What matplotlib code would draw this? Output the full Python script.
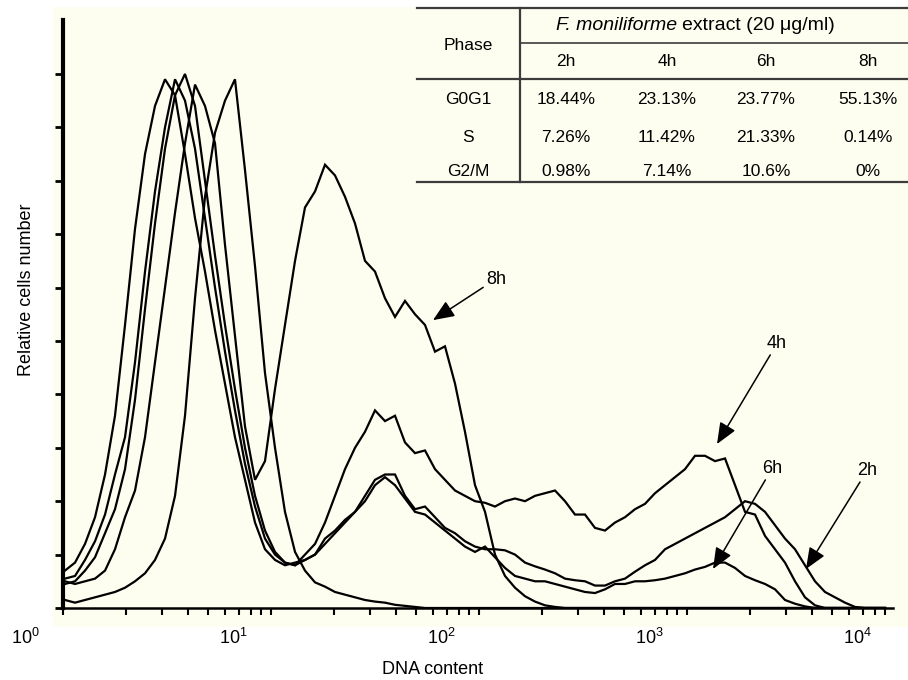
import matplotlib
matplotlib.use('Agg')
import matplotlib.pyplot as plt
from matplotlib import transforms
from matplotlib.patches import Rectangle

plt.rcParams['font.family'] = ['Liberation Sans', 'DejaVu Sans']
plt.rcParams['mathtext.fontset'] = 'custom'
plt.rcParams['mathtext.rm'] = 'Liberation Sans'
plt.rcParams['mathtext.it'] = 'Liberation Sans:italic'

# Canales de contenido de ADN (escala log)
dna_content = [
    1.556, 1.740, 1.943, 2.171, 2.425, 2.708, 3.026, 3.380, 3.776, 4.217,
    4.711, 5.263, 5.878, 6.567, 7.335, 8.194, 9.152, 10.22, 11.42, 12.76,
    14.25, 15.92, 17.78, 19.87, 22.19, 24.79, 27.69, 30.93, 34.55, 38.60,
    43.11, 48.16, 53.80, 60.10, 67.13, 74.99, 83.77, 93.58, 104.5, 116.8,
    130.4, 145.7, 162.8, 181.8, 203.1, 226.9, 253.5, 283.1, 316.2, 353.3,
    394.6, 440.8, 492.4, 550.0, 614.4, 686.3, 766.7, 856.4, 956.7, 1069,
    1194, 1334, 1490, 1664, 1859, 2077, 2320, 2592, 2895, 3234,
    3612, 4035, 4507, 5035, 5623, 6282, 7017, 7839, 8757, 9781,
    10926, 12205, 13634]

# Numero relativo de celulas por tiempo
cells_6h = [
    0.70, 0.85, 1.20, 1.70, 2.50, 3.60, 5.30, 7.10, 8.50, 9.40,
    9.90, 9.60, 8.50, 7.30, 6.30, 5.20, 4.20, 3.20, 2.40, 1.60,
    1.10, 0.90, 0.80, 0.85, 0.90, 1.00, 1.20, 1.40, 1.60, 1.80,
    2.00, 2.30, 2.45, 2.30, 2.05, 1.80, 1.75, 1.60, 1.45, 1.30,
    1.15, 1.05, 1.15, 0.95, 0.75, 0.60, 0.55, 0.50, 0.50, 0.45,
    0.40, 0.35, 0.30, 0.28, 0.35, 0.45, 0.45, 0.50, 0.50, 0.52,
    0.55, 0.60, 0.65, 0.72, 0.77, 0.85, 0.85, 0.75, 0.60, 0.52,
    0.45, 0.35, 0.15, 0.08, 0.03, 0, 0, 0, 0, 0,
    0, 0, 0]

cells_2h = [
    0.55, 0.60, 0.90, 1.25, 1.75, 2.50, 3.20, 4.60, 6.30, 7.80,
    9.00, 9.90, 9.50, 8.60, 7.30, 6.00, 4.80, 3.70, 2.70, 1.90,
    1.30, 1.00, 0.85, 0.80, 0.90, 1.00, 1.30, 1.45, 1.65, 1.80,
    2.10, 2.40, 2.50, 2.50, 2.10, 1.85, 1.90, 1.70, 1.50, 1.40,
    1.25, 1.15, 1.10, 1.10, 1.08, 1.00, 0.85, 0.78, 0.72, 0.65,
    0.55, 0.52, 0.50, 0.42, 0.42, 0.50, 0.55, 0.68, 0.80, 0.90,
    1.10, 1.20, 1.30, 1.40, 1.50, 1.60, 1.70, 1.85, 2.00, 1.95,
    1.80, 1.55, 1.30, 1.10, 0.80, 0.50, 0.30, 0.20, 0.10, 0.02,
    0, 0, 0]

cells_4h = [
    0.45, 0.50, 0.70, 0.95, 1.40, 1.85, 2.60, 3.90, 5.60, 7.20,
    8.60, 9.60, 10.0, 9.40, 8.00, 6.60, 5.30, 4.10, 3.00, 2.10,
    1.45, 1.05, 0.85, 0.80, 1.00, 1.20, 1.60, 2.10, 2.60, 3.00,
    3.30, 3.70, 3.50, 3.60, 3.10, 2.90, 2.95, 2.60, 2.40, 2.20,
    2.10, 2.00, 1.97, 1.90, 2.00, 2.05, 2.00, 2.10, 2.15, 2.20,
    2.00, 1.75, 1.75, 1.50, 1.45, 1.60, 1.70, 1.85, 1.95, 2.15,
    2.30, 2.45, 2.60, 2.85, 2.85, 2.75, 2.80, 2.30, 1.80, 1.75,
    1.35, 1.10, 0.85, 0.50, 0.20, 0.05, 0, 0, 0, 0,
    0, 0, 0]

cells_8h = [
    0.50, 0.45, 0.50, 0.55, 0.70, 1.10, 1.70, 2.20, 3.20, 4.60,
    6.00, 7.40, 8.70, 9.80, 9.40, 8.70, 6.80, 5.10, 3.40, 2.40,
    2.75, 4.10, 5.30, 6.50, 7.50, 7.80, 8.30, 8.10, 7.70, 7.20,
    6.50, 6.30, 5.80, 5.45, 5.75, 5.50, 5.30, 4.80, 4.90, 4.20,
    3.30, 2.30, 1.80, 1.00, 0.60, 0.38, 0.22, 0.12, 0.05, 0.02,
    0, 0, 0, 0, 0, 0, 0, 0, 0, 0,
    0, 0, 0, 0, 0, 0, 0, 0, 0, 0,
    0, 0, 0, 0, 0, 0, 0, 0, 0, 0,
    0, 0, 0]

cells_control = [
    0.15, 0.10, 0.15, 0.20, 0.25, 0.30, 0.38, 0.50, 0.65, 0.90,
    1.30, 2.10, 3.60, 5.80, 7.70, 8.90, 9.50, 9.90, 8.20, 6.40,
    4.40, 3.00, 1.80, 1.05, 0.70, 0.48, 0.40, 0.30, 0.25, 0.20,
    0.15, 0.12, 0.10, 0.06, 0.04, 0.02, 0, 0, 0, 0,
    0, 0, 0, 0, 0, 0, 0, 0, 0, 0,
    0, 0, 0, 0, 0, 0, 0, 0, 0, 0,
    0, 0, 0, 0, 0, 0, 0, 0, 0, 0,
    0, 0, 0, 0, 0, 0, 0, 0, 0, 0,
    0, 0, 0]

# Etiquetas con flecha: (DNA, celulas) de la punta y del texto
arrow_labels = ['8h', '4h', '6h', '2h']
arrow_tips = [(91.5, 5.39), (2123, 3.07), (2031, 0.73), (5685, 0.73)]
arrow_texts = [(183.8, 6.16), (4125, 4.95), (3903, 2.61), (11171, 2.57)]

# Tabla de fases
time_points = ['2h', '4h', '6h', '8h']
phases = ['G0G1', 'S', 'G2/M']
pct_g0g1 = ['18.44%', '23.13%', '23.77%', '55.13%']
pct_s = ['7.26%', '11.42%', '21.33%', '0.14%']
pct_g2m = ['0.98%', '7.14%', '10.6%', '0%']

W, H = 908, 680
fig = plt.figure(figsize=(W / 100, H / 100), dpi=100)

# fondo crema del panel
fig.add_artist(Rectangle((53 / W, 1 - 627 / H), (W - 53) / W, 620 / H,
                         transform=fig.transFigure, facecolor='#fefef0',
                         edgecolor='none', zorder=-1))

ax = fig.add_axes([63 / W, 72 / H, 830 / W, 588 / H])
ax.set_facecolor('none')
ax.set_xscale('log')
ax.set_xlim(10 ** (38 / 208), 10 ** (868 / 208))
ax.set_ylim(0, 11.01)

for serie in [cells_6h, cells_2h, cells_4h, cells_8h, cells_control]:
    ax.plot(dna_content, serie, color='black', lw=1.6, solid_joinstyle='miter')

# ticks del citometro (desplazados respecto a las etiquetas)
inst0 = 10 ** (38 / 208)
inst_ticks = [inst0 * m * 10 ** k for k in range(4) for m in range(1, 10)]
ax.set_xticks(inst_ticks)
ax.minorticks_off()
ax.set_xticklabels([])
ax.set_yticks(range(0, 11))
ax.set_yticklabels([])
ax.tick_params(axis='x', direction='out', length=5, width=1.5)
ax.tick_params(axis='y', direction='out', length=6, width=2)
ax.spines['top'].set_visible(False)
ax.spines['right'].set_visible(False)
ax.spines['left'].set_linewidth(3)
ax.spines['bottom'].set_linewidth(1.8)

trans = transforms.blended_transform_factory(ax.transData, ax.transAxes)
for k in range(5):
    ax.text(10 ** k, -0.051, r'$\mathregular{10^{%d}}$' % k, transform=trans,
            ha='center', va='center', fontsize=13, clip_on=False)

ax.set_xlabel('DNA content', fontsize=13, va='top')
ax.xaxis.set_label_coords(0.4458, -0.0901)
ax.set_ylabel('Relative cells number', fontsize=13)
ax.yaxis.set_label_coords(-0.0337, 0.5408)

for lab, tip, txt in zip(arrow_labels, arrow_tips, arrow_texts):
    ax.annotate(lab, xy=tip, xytext=txt, fontsize=13, ha='center', va='center',
                arrowprops=dict(arrowstyle='-|>,head_length=0.65,head_width=0.27',
                                mutation_scale=20, lw=1.1, color='black',
                                shrinkA=0, shrinkB=0))

# tabla en coordenadas de pixel
tab = fig.add_axes([0, 0, 1, 1], zorder=3)
tab.set_xlim(0, W)
tab.set_ylim(H, 0)
tab.axis('off')
lc = '#3c3c3c'
tab.plot([417, W], [8, 8], color=lc, lw=1.6)
tab.plot([520, W], [43, 43], color=lc, lw=1.2)
tab.plot([417, W], [79, 79], color=lc, lw=1.6)
tab.plot([417, W], [182, 182], color=lc, lw=1.6)
tab.plot([520, 520], [8, 182], color=lc, lw=1.6)

fs = 12.5
tab.text(468, 45, 'Phase', ha='center', va='center', fontsize=fs)
tab.text(677, 25, 'F. moniliforme', ha='right', va='center', fontsize=14,
         fontstyle='italic')
tab.text(682, 25, 'extract (20 μg/ml)', ha='left', va='center', fontsize=14)
col_x = [566, 667, 766, 868]
for x, t in zip(col_x, time_points):
    tab.text(x, 62, t, ha='center', va='center', fontsize=fs)
for y, fase, fila in zip([100, 137, 172], phases, [pct_g0g1, pct_s, pct_g2m]):
    tab.text(468, y, fase, ha='center', va='center', fontsize=fs)
    for x, v in zip(col_x, fila):
        tab.text(x, y, v, ha='center', va='center', fontsize=fs)

fig.savefig('out.png', dpi=100)
